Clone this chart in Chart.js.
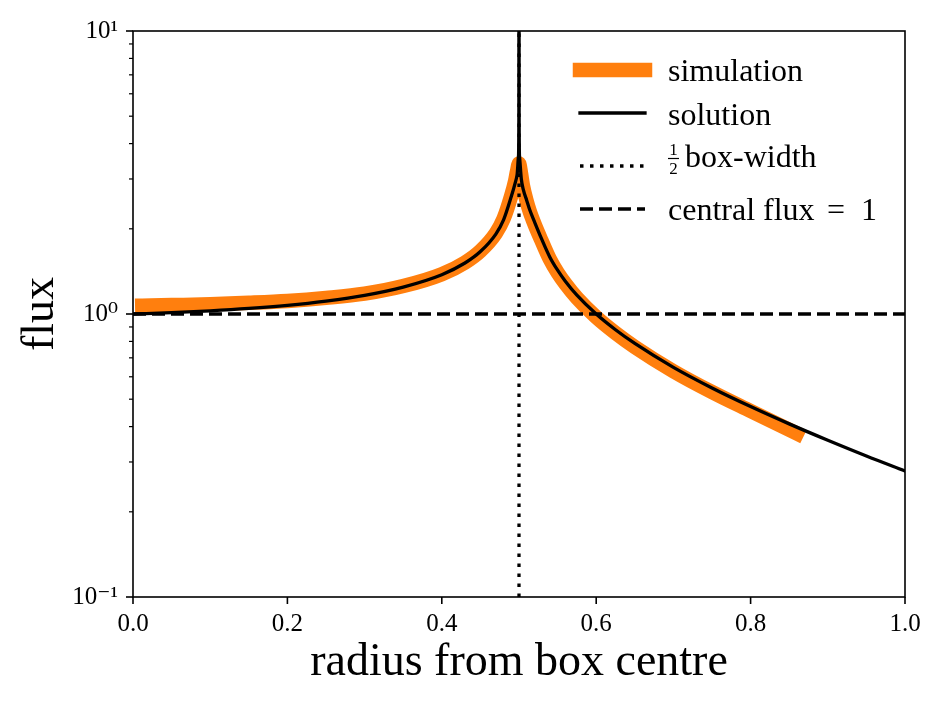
<!DOCTYPE html>
<html><head><meta charset="utf-8">
<script src="https://cdn.jsdelivr.net/npm/chart.js@4.4.1/dist/chart.umd.min.js"></script>
<style>html,body{margin:0;padding:0;background:#fff;}canvas{display:block;}</style>
</head><body>
<canvas id="c" width="945" height="705"></canvas>
<script>
// ---- data ----
const simRadius = [0.012,0.05,0.10,0.15,0.20,0.25,0.30,0.35,0.40,0.43,0.45,0.47,0.48,0.49,0.495,0.4975,0.5,0.5025,0.505,0.51,0.514,0.52,0.529,0.54,0.55,0.56,0.575,0.60,0.625,0.65,0.70,0.75,0.80,0.86];
const simFlux   = [1.070,1.075,1.082,1.095,1.112,1.140,1.180,1.255,1.382,1.52,1.67,1.93,2.17,2.62,2.95,3.2,3.4,3.15,2.85,2.5,2.3,2.08,1.82,1.56,1.40,1.28,1.14,0.975,0.857,0.765,0.628,0.530,0.454,0.378];
const solRadius = [0,0.05,0.10,0.15,0.20,0.25,0.30,0.35,0.40,0.43,0.45,0.47,0.48,0.49,0.495,0.4975,0.4993,0.49985,0.5,0.50015,0.5007,0.503,0.5056,0.51,0.514,0.52,0.529,0.54,0.55,0.56,0.575,0.60,0.625,0.65,0.70,0.75,0.80,0.85,0.90,0.95,1.0];
const solFlux   = [1.000,1.011,1.026,1.046,1.073,1.111,1.164,1.245,1.377,1.514,1.662,1.916,2.15,2.60,2.90,3.10,3.6,5.0,60,5.0,3.6,3.0,2.75,2.52,2.33,2.12,1.85,1.588,1.428,1.306,1.166,1.000,0.880,0.787,0.648,0.548,0.471,0.409,0.358,0.315,0.279];
const halfBoxX = [0.5, 0.5];
const halfBoxY = [0.1, 10];
const centralX = [0, 1];
const centralY = [1, 1];
const xTickValues = [0, 0.2, 0.4, 0.6, 0.8, 1.0];
const yMajorTicks = [0.1, 1, 10];
const yTickLabels = ['10\u207B\u00B9', '10\u2070', '10\u00B9'];
const seriesLabels = ['simulation', 'solution', '\u00BDbox-width', 'central flux = 1'];

const serif = "'Liberation Serif', 'DejaVu Serif', serif";
const pts = (xs, ys) => xs.map((x, i) => ({x: x, y: ys[i]}));

const decor = {
  id: 'decor',
  afterDraw(chart) {
    const {ctx, chartArea: a, scales: {x, y}} = chart;
    ctx.save();
    ctx.strokeStyle = '#000';
    ctx.lineCap = 'butt';
    ctx.lineWidth = 1.6;
    ctx.strokeRect(a.left, a.top, a.right - a.left, a.bottom - a.top);
    const seg = (x1, y1, x2, y2) => { ctx.beginPath(); ctx.moveTo(x1, y1); ctx.lineTo(x2, y2); ctx.stroke(); };
    xTickValues.forEach(v => { const px = x.getPixelForValue(v); seg(px, a.bottom, px, a.bottom + 7); });
    yMajorTicks.forEach(v => { const py = y.getPixelForValue(v); seg(a.left - 7, py, a.left, py); });
    ctx.lineWidth = 1.2;
    [0.1, 1].forEach(d => { for (let k = 2; k <= 9; k++) { const py = y.getPixelForValue(k * d); seg(a.left - 4, py, a.left, py); } });

    // legend
    const ds = chart.data.datasets;
    const rows = [70, 113, 166, 209];
    const x0 = 580, x1 = 645, tx = 668;
    ds.forEach((d, i) => {
      ctx.save();
      ctx.strokeStyle = d.borderColor;
      ctx.lineWidth = d.borderWidth;
      ctx.lineCap = d.borderCapStyle || 'butt';
      ctx.setLineDash(d.borderDash || []);
      seg(x0, rows[i], x1, rows[i]);
      ctx.restore();
    });
    ctx.fillStyle = '#000';
    ctx.textBaseline = 'alphabetic';
    ctx.textAlign = 'left';
    ctx.font = '32px ' + serif;
    ctx.fillText(seriesLabels[0], tx, 81);
    ctx.fillText(seriesLabels[1], tx, 125);
    ctx.fillText('box-width', 685, 167);
    ctx.fillText('central flux', tx, 220);
    ctx.textAlign = 'center';
    ctx.fillText('=', 836, 220);
    ctx.textAlign = 'left';
    ctx.fillText('1', 861, 220);
    ctx.font = '17px ' + serif;
    ctx.textAlign = 'center';
    ctx.fillText('1', 673.5, 155);
    ctx.fillText('2', 673.5, 174);
    ctx.lineWidth = 1.2;
    seg(668, 158.5, 679, 158.5);
    ctx.restore();
  }
};

new Chart(document.getElementById('c'), {
  type: 'line',
  data: {
    datasets: [
      {label: seriesLabels[0], data: pts(simRadius, simFlux), borderColor: '#ff7f0e', backgroundColor: '#ff7f0e',
       borderWidth: 14.5, borderCapStyle: 'square', borderJoinStyle: 'round', cubicInterpolationMode: 'monotone', pointRadius: 0, order: 4},
      {label: seriesLabels[1], data: pts(solRadius, solFlux), borderColor: '#000', backgroundColor: '#000',
       borderWidth: 3.3, borderCapStyle: 'square', borderJoinStyle: 'round', cubicInterpolationMode: 'monotone', pointRadius: 0, order: 3, clip: 0},
      {label: seriesLabels[2], data: pts(halfBoxX, halfBoxY), borderColor: '#000', backgroundColor: '#000',
       borderWidth: 3.3, borderDash: [3.5, 6.5], borderCapStyle: 'butt', pointRadius: 0, order: 2, clip: 0},
      {label: seriesLabels[3], data: pts(centralX, centralY), borderColor: '#000', backgroundColor: '#000',
       borderWidth: 3.3, borderDash: [13, 6], borderCapStyle: 'butt', pointRadius: 0, order: 1, clip: 0}
    ]
  },
  options: {
    responsive: false,
    animation: false,
    devicePixelRatio: 1,
    layout: {padding: {left: 0, top: 31, right: 40, bottom: 0}},
    plugins: {legend: {display: false}, tooltip: {enabled: false}},
    scales: {
      x: {
        type: 'linear', min: 0, max: 1,
        afterBuildTicks: s => { s.ticks = xTickValues.map(v => ({value: v})); },
        afterFit: s => { s.height = 108; },
        ticks: {callback: v => Number(v).toFixed(1), color: '#000', font: {family: serif, size: 25}, padding: 12, maxRotation: 0, autoSkip: false},
        grid: {display: false, drawTicks: false, tickLength: 0},
        border: {display: false},
        title: {display: true, text: 'radius from box centre', color: '#000', font: {family: serif, size: 46}, padding: {top: 0, bottom: 14}}
      },
      y: {
        type: 'logarithmic', min: 0.1, max: 10,
        afterBuildTicks: s => { s.ticks = yMajorTicks.map(v => ({value: v, major: true})); },
        afterFit: s => { s.width = 133; },
        ticks: {callback: v => { const i = yMajorTicks.indexOf(v); return i >= 0 ? yTickLabels[i] : ''; }, color: '#000', font: {family: serif, size: 25}, padding: 15, autoSkip: false},
        grid: {display: false, drawTicks: false, tickLength: 0},
        border: {display: false},
        title: {display: true, text: 'flux', color: '#000', font: {family: serif, size: 46}, padding: {top: 13, bottom: 0}}
      }
    }
  },
  plugins: [decor]
});
</script>
</body></html>
